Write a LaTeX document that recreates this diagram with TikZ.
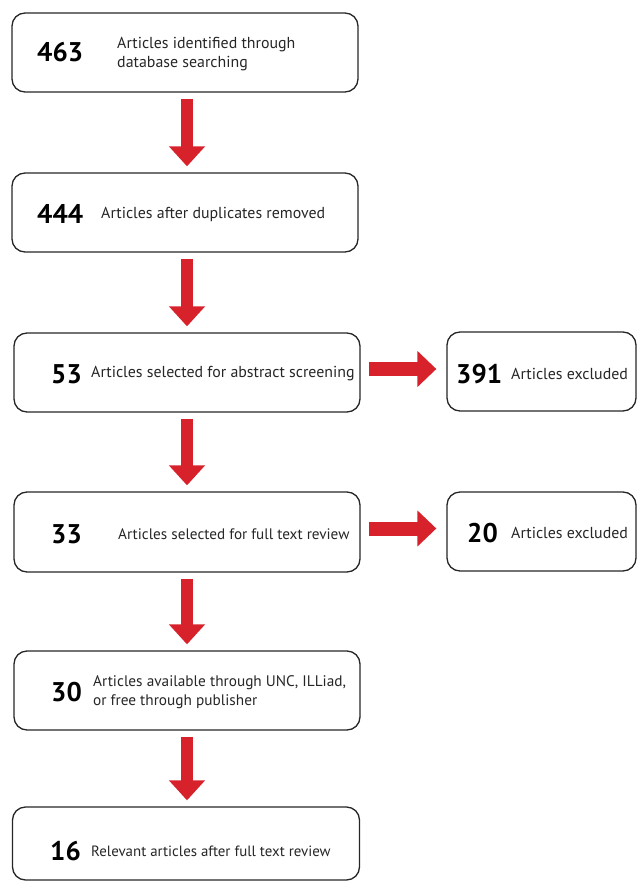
\documentclass[tikz,border=0pt]{standalone}
\usepackage{fontspec}
\setmainfont{PT Sans}
\usetikzlibrary{arrows.meta}
\definecolor{arrred}{HTML}{D7222C}
\begin{document}
\begin{tikzpicture}[x=1pt,y=-1pt,
 box/.style={draw=black!85, line width=1.3pt, rounded corners=13pt, minimum width=346pt, minimum height=79pt, inner sep=0pt},
 sbox/.style={box, minimum width=189pt},
 num/.style={font=\fontsize{27}{27}\selectfont\bfseries, anchor=west, inner sep=0pt},
 lab/.style={font=\fontsize{15.9}{18.5}\selectfont, text=black!85, anchor=west, align=left, inner sep=0pt},
 labsize/.style={font=\fontsize{#1}{18.5}\selectfont},
 down/.style={draw=arrred, line width=12.5pt, -{Triangle[width=35pt,length=20pt]}, shorten <=6pt, shorten >=6pt},
 side/.style={draw=arrred, line width=14pt, -{Triangle[width=35pt,length=19pt]}, shorten <=8pt, shorten >=10pt},
]
\useasboundingbox (0,0) rectangle (637,882);
\node[box] (b1) at (185,52.5) {};
\node[box] (b2) at (185,212.5) {};
\node[box] (b3) at (187,372.5) {};
\node[sbox] (r3) at (541.5,371.5) {};
\node[box, minimum height=80pt] (b4) at (187,532) {};
\node[sbox] (r4) at (541.5,531.5) {};
\node[box] (b5) at (187,690.5) {};
\node[box, minimum width=347pt, minimum height=73pt] (b6) at (186,843.5) {};

\node[num] (n1) at (37,52) {463};
\node[lab] (t1) at (117,54) {Articles identified through\\database searching};
\node[num] (n2) at (37,214) {444};
\node[lab] (t2) at (101,214) {Articles after duplicates removed};
\node[num] (n3) at (51,374) {53};
\node[lab] (t3) at (91,374) {Articles selected for abstract screening};
\node[num] (m3) at (456,374) {391};
\node[lab] (s3) at (511,374) {Articles excluded};
\node[num] (n4) at (51,534) {33};
\node[lab, labsize=15.2] (t4) at (118,534) {Articles selected for full text review};
\node[num] (m4) at (467,533) {20};
\node[lab] (s4) at (511,533) {Articles excluded};
\node[num] (n5) at (51,692) {30};
\node[lab, labsize=15.3] (t5) at (93,692) {Articles available through UNC, ILLiad,\\or free through publisher};
\node[num] (n6) at (50,851) {16};
\node[lab, labsize=14.9] (t6) at (91,851) {Relevant articles after full text review};

\draw[down] ([xshift=2pt]b1.south) -- ([xshift=2pt]b1.south |- b2.north);
\draw[down] ([xshift=2pt]b2.south) -- ([xshift=2pt]b2.south |- b3.north);
\draw[down] (b3.south) -- (b3.south |- b4.north);
\draw[down] (b4.south) -- (b4.south |- b5.north);
\draw[down] (b5.south) -- (b5.south |- b6.north);
\draw[side] ([yshift=3.5pt]b3.east) -- ([yshift=3.5pt]b3.east -| r3.west);
\draw[side] ([yshift=3.5pt]b4.east) -- ([yshift=3.5pt]b4.east -| r4.west);
\end{tikzpicture}
\end{document}
